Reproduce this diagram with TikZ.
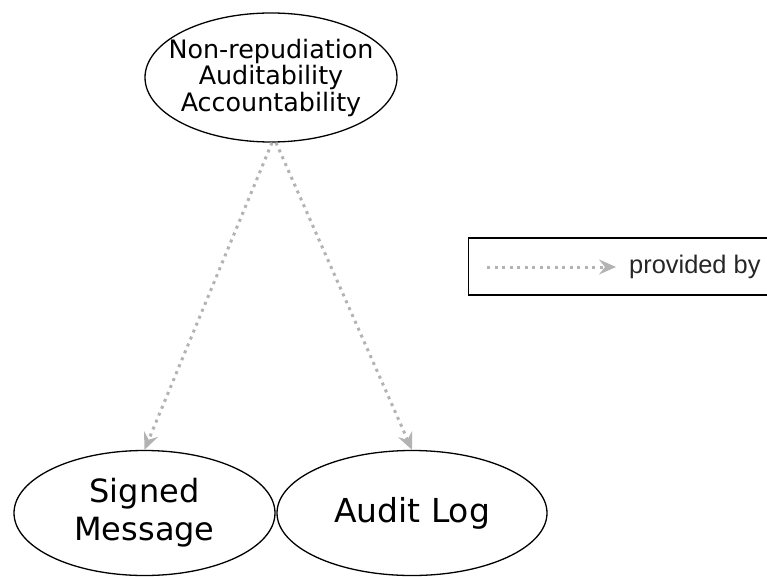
\documentclass[tikz,border=0pt]{standalone}
\usepackage{fontspec}
\setmainfont{DejaVu Sans}
\newfontfamily\legendfont{Liberation Sans}
\usetikzlibrary{arrows.meta,shapes.geometric}
\definecolor{arrowgray}{HTML}{B3B3B3}
\tikzset{
  oval/.style={draw=black, line width=1.3pt, ellipse, inner sep=0pt, fill=white},
  ovaltext/.style={inner sep=0pt, align=center},
  provides/.style={draw=arrowgray, line width=3pt, dash pattern=on 3pt off 4.5pt,
    -{Stealth[length=17pt,width=15pt,inset=6pt,fill=arrowgray]}},
}
\begin{document}
\begin{tikzpicture}[x=1pt,y=-1pt]
\useasboundingbox (0,0) rectangle (767,577);
\clip (0,0) rectangle (767,577);
\node[oval, minimum width=252pt, minimum height=129pt] (top) at (271,77.5) {};
\node[ovaltext, font=\fontsize{25.4}{26.5}\selectfont] (toptext) at (top.center)
  {Non-repudiation\\Auditability\\Accountability};
\node[oval, minimum width=261pt, minimum height=125pt] (sm) at (144.5,513) {};
\node[ovaltext, font=\fontsize{32}{38}\selectfont] (smtext) at (sm.center)
  {Signed\\Message};
\node[oval, minimum width=270pt, minimum height=125pt] (al) at (412,513) {};
\node[ovaltext, font=\fontsize{33}{38}\selectfont] (altext) at (al.center)
  {Audit Log};
\draw[provides] ([xshift=1pt]top.south) -- (sm.north);
\draw[provides] ([xshift=5pt]top.south) -- (al.north);
\node[draw=black, line width=1.3pt, minimum width=310pt, minimum height=57pt,
  inner sep=0pt, anchor=west] (legend) at (468,266.5) {};
\coordinate (ls) at (487,267);
\coordinate (le) at (616,267);
\draw[provides] (ls) -- (le);
\node[anchor=west, inner sep=0pt, font=\legendfont\fontsize{25.4}{28}\selectfont, text=black!85] (lt) at (629,267) {provided by};
\end{tikzpicture}
\end{document}
